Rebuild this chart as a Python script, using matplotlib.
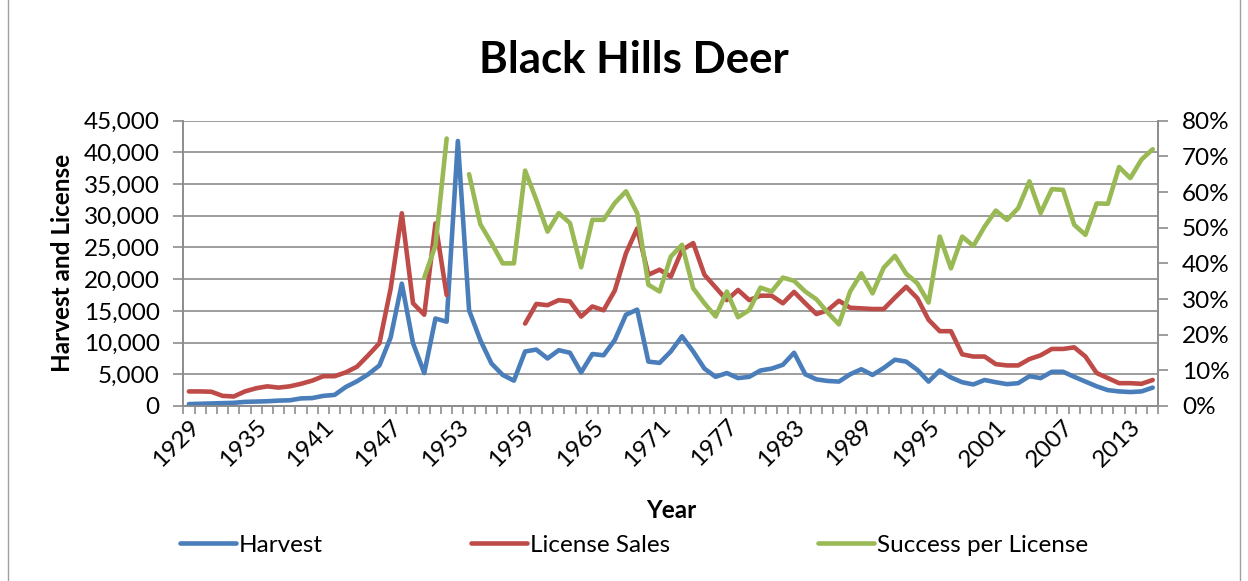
import numpy as np
import matplotlib.pyplot as plt
from matplotlib.ticker import FuncFormatter, MultipleLocator, FixedLocator
from matplotlib.patches import Rectangle

plt.rcParams['font.family'] = ['Lato', 'DejaVu Sans']

# Black Hills deer, 1929-2015
years = list(range(1929, 2016))
harvest = [300, 350, 400, 450, 500, 650, 700, 750, 850, 900,
           1200, 1250, 1600, 1750, 3000, 3900, 5000, 6400, 10800, 19300,
           9900, 5200, 13800, 13300, 41800, 15100, 10400, 6700, 4900, 4000,
           8600, 8900, 7500, 8800, 8400, 5300, 8200, 8000, 10400, 14400,
           15200, 7000, 6800, 8600, 11000, 8600, 5900, 4600, 5200, 4400,
           4600, 5600, 5900, 6500, 8400, 5000, 4200, 3950, 3850, 5000,
           5800, 4900, 6000, 7300, 7000, 5700, 3850, 5600, 4500, 3750,
           3400, 4100, 3750, 3450, 3600, 4700, 4400, 5400, 5400, 4600,
           3850, 3100, 2500, 2300, 2200, 2300, 2900]
nan = np.nan
licenses = [2300, 2300, 2250, 1600, 1500, 2300, 2800, 3100, 2900, 3100,
            3500, 4000, 4700, 4700, 5300, 6200, 8000, 9900, 18500, 30400,
            16200, 14400, 28800, 17500, nan, nan, nan, nan, nan, nan,
            13000, 16100, 15900, 16700, 16500, 14100, 15700, 15100, 18200, 24100,
            28000, 20700, 21500, 20400, 24600, 25700, 20700, 18700, 16700, 18300,
            16700, 17400, 17400, 16200, 18000, 16200, 14500, 15100, 16600, 15500,
            15400, 15300, 15300, 17100, 18800, 17000, 13600, 11800, 11800, 8150,
            7800, 7800, 6600, 6400, 6400, 7400, 8000, 9000, 9000, 9250,
            7800, 5200, 4400, 3600, 3600, 3500, 4100]
# success per license, percent
success = [nan] * 21 + [
    36, 45, 75, nan, 65, 51, 45.7, 40, 40,
    66, 57.8, 48.9, 54.1, 51.3, 38.9, 52.2, 52.2, 56.9, 60.2,
    54.1, 34, 32.1, 41.9, 45.2, 33, 28.8, 25.1, 32.1, 24.9,
    26.9, 33.2, 32.1, 36, 35.1, 32.1, 29.9, 26.2, 22.9, 32.1,
    37.2, 31.6, 38.8, 42.1, 37.1, 34.4, 29, 47.5, 38.6, 47.5,
    44.9, 50.3, 54.8, 52.2, 55.5, 63, 54.1, 60.8, 60.6, 50.8,
    48, 56.8, 56.7, 67, 63.9, 69.1, 72]
label_years = years[::6]

blue = '#4a7ebb'
red = '#be4b48'
green = '#98b954'
gridc = '#8c8c8c'
fs = 17.5

fig = plt.figure(figsize=(12.48, 5.81), dpi=100)
fig.patches.append(Rectangle((8 / 1248, -0.1), 1232 / 1248, 1.2, transform=fig.transFigure,
                             fill=False, edgecolor='#a0a0a0', lw=1))

ax = fig.add_axes([183.3 / 1248, 1 - 406 / 581, 975 / 1248, 285.3 / 581])
ax2 = ax.twinx()

ax.plot(years, harvest, color=blue, lw=3.3, solid_capstyle='round', solid_joinstyle='round', label='Harvest', zorder=3)
ax.plot(years, licenses, color=red, lw=3.3, solid_capstyle='round', solid_joinstyle='round', label='License Sales', zorder=3)
ax2.plot(years, success, color=green, lw=3.3, solid_capstyle='round', solid_joinstyle='round', label='Success per License', zorder=3)

ax.set_xlim(years[0] - 0.5, years[-1] + 0.5)
ax.set_ylim(0, 45000)
ax2.set_ylim(0, 80)

ax.yaxis.set_major_locator(MultipleLocator(5000))
ax.yaxis.set_major_formatter(FuncFormatter(lambda v, p: f'{int(v):,}'))
ax2.yaxis.set_major_locator(MultipleLocator(10))
ax2.yaxis.set_major_formatter(FuncFormatter(lambda v, p: f'{int(v)}%'))
ax.grid(axis='y', color=gridc, lw=1.2)
ax.set_axisbelow(True)

ax.xaxis.set_major_locator(FixedLocator(label_years))
ax.xaxis.set_minor_locator(FixedLocator([y - 0.5 for y in years] + [years[-1] + 0.5]))
ax.tick_params(axis='x', which='major', length=0, pad=7, labelsize=fs)
ax.tick_params(axis='x', which='minor', length=6, color=gridc, width=1.2)
for t in ax.get_xticklabels():
    t.set_rotation(45)
    t.set_ha('right')
    t.set_va('top')
    t.set_rotation_mode('anchor')

ax.tick_params(axis='y', length=7, color=gridc, width=1.2, labelsize=fs, pad=10)
ax2.tick_params(axis='y', length=7, color=gridc, width=1.2, labelsize=fs, pad=10)

for a in (ax, ax2):
    a.spines['top'].set_visible(False)
    for s in ('left', 'right', 'bottom'):
        a.spines[s].set_color(gridc)
        a.spines[s].set_linewidth(1.2)

ax.set_ylabel('Harvest and License', fontsize=fs, fontweight='bold')
ax.yaxis.set_label_coords((62 - 183.3) / 975, 0.5)
ax.yaxis.label.set_va('center')
ax.set_xlabel('Year', fontsize=fs, fontweight='bold')
ax.xaxis.set_label_coords(0.5, (406 - 510) / 285.3)
ax.xaxis.label.set_va('center')
fig.text(633.5 / 1248, 1 - 60 / 581, 'Black Hills Deer', ha='center', va='center',
         fontsize=31.5, fontweight='bold')

h1, l1 = ax.get_legend_handles_labels()
h2, l2 = ax2.get_legend_handles_labels()
fig.legend(h1 + h2, l1 + l2, loc='center', bbox_to_anchor=(634 / 1248, 1 - 545 / 581),
           ncol=3, frameon=False, fontsize=fs, handlelength=2.3, handletextpad=0.12,
           columnspacing=6.1)

fig.savefig('out.png', dpi=100)
